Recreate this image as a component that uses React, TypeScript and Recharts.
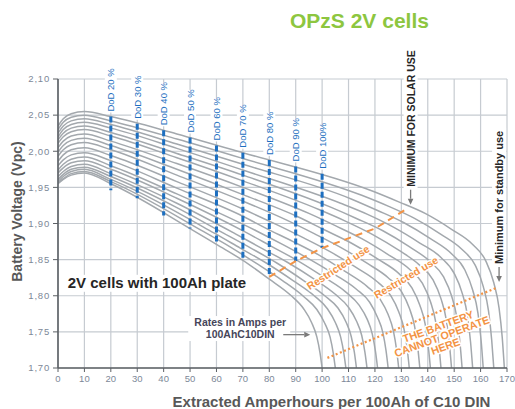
import React from "react"
import {
  LineChart,
  Line,
  XAxis,
  YAxis,
  CartesianGrid,
  ReferenceDot,
} from "recharts"

const xTicks = [0, 10, 20, 30, 40, 50, 60, 70, 80, 90, 100, 110, 120, 130, 140, 150, 160, 170]
const yTicks = [1.7, 1.75, 1.8, 1.85, 1.9, 1.95, 2.0, 2.05, 2.1]

// discharge curves, one per rate (Amps per 100Ah C10 DIN), lowest rate first
// point = [extracted Ah, volts per cell]
const rateCurves: [number, number][][] = [
  [[0, 2.035], [2, 2.045], [5, 2.052], [10, 2.055], [20, 2.048], [45, 2.024], [70, 1.998], [119, 1.945], [129, 1.93], [139, 1.914], [149, 1.892], [157, 1.871], [162, 1.848], [165, 1.818], [167, 1.783], [168.2, 1.742], [169, 1.7]],
  [[0, 2.03], [2, 2.04], [5, 2.047], [10, 2.05], [20, 2.042], [45, 2.017], [70, 1.99], [115, 1.939], [125, 1.924], [135, 1.907], [145, 1.885], [153, 1.864], [158, 1.842], [161, 1.813], [163, 1.779], [164.2, 1.739], [165, 1.7]],
  [[0, 2.025], [2, 2.035], [5, 2.042], [10, 2.045], [20, 2.037], [45, 2.01], [70, 1.982], [111, 1.934], [121, 1.918], [131, 1.901], [141, 1.879], [149, 1.858], [154, 1.836], [157, 1.808], [159, 1.776], [160.2, 1.738], [161, 1.7]],
  [[0, 2.02], [2, 2.03], [5, 2.037], [10, 2.04], [20, 2.032], [45, 2.004], [70, 1.974], [107, 1.928], [117, 1.913], [127, 1.895], [137, 1.873], [145, 1.853], [150, 1.831], [153, 1.804], [155, 1.773], [156.2, 1.736], [157, 1.7]],
  [[0, 2.016], [2, 2.025], [5, 2.032], [10, 2.035], [20, 2.026], [45, 1.997], [70, 1.967], [103, 1.923], [113, 1.907], [123, 1.89], [133, 1.868], [141, 1.847], [146, 1.826], [149, 1.8], [151, 1.77], [152.2, 1.735], [153, 1.7]],
  [[0, 2.011], [2, 2.02], [5, 2.027], [10, 2.03], [20, 2.021], [45, 1.991], [70, 1.959], [99, 1.919], [109, 1.903], [119, 1.885], [129, 1.863], [137, 1.842], [142, 1.822], [145, 1.796], [147, 1.767], [148.2, 1.733], [149, 1.7]],
  [[0, 2.005], [2, 2.014], [5, 2.021], [10, 2.024], [20, 2.014], [45, 1.983], [70, 1.95], [95, 1.914], [105, 1.897], [115, 1.879], [125, 1.857], [133, 1.837], [138, 1.817], [141, 1.792], [143, 1.764], [144.2, 1.732], [145, 1.7]],
  [[0, 1.999], [2, 2.008], [5, 2.015], [10, 2.018], [20, 2.008], [45, 1.975], [70, 1.94], [91, 1.909], [101, 1.891], [111, 1.873], [121, 1.851], [129, 1.831], [134, 1.811], [137, 1.787], [139, 1.761], [140.2, 1.73], [141, 1.7]],
  [[0, 1.993], [2, 2.002], [5, 2.009], [10, 2.012], [20, 2.002], [45, 1.967], [70, 1.931], [87, 1.904], [97, 1.886], [107, 1.867], [117, 1.845], [125, 1.825], [130, 1.806], [133, 1.783], [135, 1.758], [136.2, 1.729], [137, 1.7]],
  [[0, 1.986], [2, 1.995], [5, 2.002], [10, 2.005], [20, 1.994], [45, 1.958], [70, 1.92], [83, 1.898], [93, 1.88], [103, 1.861], [113, 1.839], [121, 1.819], [126, 1.8], [129, 1.778], [131, 1.754], [132.2, 1.727], [133, 1.7]],
  [[0, 1.98], [2, 1.988], [5, 1.995], [10, 1.998], [20, 1.987], [45, 1.949], [70, 1.91], [79, 1.893], [89, 1.875], [99, 1.856], [109, 1.833], [117, 1.813], [122, 1.795], [125, 1.774], [127, 1.751], [128.2, 1.725], [129, 1.7]],
  [[0, 1.974], [2, 1.982], [5, 1.989], [10, 1.992], [20, 1.98], [45, 1.941], [75, 1.89], [85, 1.871], [95, 1.851], [105, 1.829], [113, 1.809], [118, 1.791], [121, 1.77], [123, 1.749], [124.2, 1.724], [125, 1.7]],
  [[0, 1.97], [2, 1.977], [5, 1.984], [10, 1.987], [20, 1.975], [45, 1.935], [71, 1.888], [81, 1.868], [91, 1.848], [101, 1.825], [109, 1.805], [114, 1.787], [117, 1.768], [119, 1.747], [120.2, 1.723], [121, 1.7]],
  [[0, 1.965], [2, 1.972], [5, 1.979], [10, 1.982], [20, 1.969], [45, 1.928], [67, 1.886], [77, 1.866], [87, 1.846], [97, 1.823], [105, 1.802], [110, 1.784], [113, 1.765], [115, 1.745], [116.2, 1.722], [117, 1.7]],
  [[0, 1.961], [2, 1.968], [5, 1.975], [10, 1.978], [20, 1.965], [45, 1.922], [63, 1.886], [73, 1.866], [83, 1.845], [93, 1.821], [101, 1.8], [106, 1.783], [109, 1.764], [111, 1.744], [112.2, 1.722], [113, 1.7]],
  [[0, 1.958], [2, 1.965], [5, 1.972], [10, 1.975], [20, 1.961], [59, 1.887], [69, 1.866], [79, 1.845], [89, 1.821], [97, 1.8], [102, 1.782], [105, 1.763], [107, 1.743], [108.2, 1.721], [109, 1.7]],
  [[0, 1.956], [2, 1.962], [5, 1.969], [10, 1.972], [20, 1.958], [55, 1.889], [65, 1.868], [75, 1.845], [85, 1.821], [93, 1.799], [98, 1.781], [101, 1.762], [103, 1.743], [104.2, 1.721], [105, 1.7]],
  [[0, 1.955], [2, 1.961], [5, 1.967], [10, 1.97], [20, 1.955], [50, 1.893], [60, 1.871], [70, 1.849], [80, 1.823], [88, 1.801], [93, 1.782], [96, 1.763], [98, 1.743], [99.2, 1.721], [100, 1.7]],
]

// depth of discharge markers
const dodAh = [20, 30, 40, 50, 60, 70, 80, 90, 100]
const dodTop = [2.048, 2.038, 2.029, 2.019, 2.008, 1.998, 1.988, 1.979, 1.969]
const dodBottom = [1.946, 1.935, 1.911, 1.893, 1.871, 1.851, 1.826, 1.848, 1.866]
const dodLabels = ["DoD 20 %", "DoD 30 %", "DoD 40 %", "DoD 50 %", "DoD 60 %", "DoD 70 %", "DoD 80 %", "DoD 90 %", "DoD 100%"]

// orange limits
const restrictedLine: [number, number][] = [[80, 1.826], [90, 1.848], [100, 1.866], [120, 1.893], [131.5, 1.919]]
const noOperateLine: [number, number][] = [[102, 1.714], [166, 1.811]]

const FONT = "'Liberation Sans', Arial, Helvetica, sans-serif"
const CURVE = "#a3a8ad"
const GRID = "#c6cbd1"
const AXIS = "#5c6065"
const TICK = "#7d8898"
const BLUE = "#1d6fc0"
const ORANGE = "#f39446"
const INK = "#262626"

const toPoints = (list: [number, number][]) => list.map(([x, v]) => ({ x, v }))

type DotProps = { cx?: number; cy?: number }

function Arrow({ x1, y1, x2, y2 }: { x1: number; y1: number; x2: number; y2: number }) {
  const a = Math.atan2(y2 - y1, x2 - x1)
  const hx = x2 - 6 * Math.cos(a)
  const hy = y2 - 6 * Math.sin(a)
  const p1 = `${hx + 2.8 * Math.sin(a)},${hy - 2.8 * Math.cos(a)}`
  const p2 = `${hx - 2.8 * Math.sin(a)},${hy + 2.8 * Math.cos(a)}`
  return (
    <g>
      <line x1={x1} y1={y1} x2={hx} y2={hy} stroke="#7a7a7a" strokeWidth={1.3} />
      <polygon points={`${x2},${y2} ${p1} ${p2}`} fill="#7a7a7a" />
    </g>
  )
}

const dodLabel = (text: string) => ({ cx = 0, cy = 0 }: DotProps) => (
  <g transform={`translate(${cx},${cy - 5}) rotate(-90)`}>
    <rect x={-1} y={-6} width={text.length * 5.2 + 2} height={12} fill="#fff" />
    <text x={0} y={0} dominantBaseline="central" fontSize={9.5} fill={BLUE} fontFamily={FONT}>
      {text}
    </text>
  </g>
)

const verticalNote = (text: string, size: number, len: number) => ({ cx = 0, cy = 0 }: DotProps) => (
  <g>
    <Arrow x1={cx} y1={cy - 15} x2={cx} y2={cy} />
    <g transform={`translate(${cx},${cy - 18}) rotate(-90)`}>
      <rect x={-2} y={-7} width={len} height={14} fill="#fff" />
      <text x={0} y={0} dominantBaseline="central" fontSize={size} fontWeight="bold" fill={INK} fontFamily={FONT}>
        {text}
      </text>
    </g>
  </g>
)

const orangeNote = (lines: string[], angle: number, size: number) => ({ cx = 0, cy = 0 }: DotProps) => (
  <g transform={`translate(${cx},${cy}) rotate(${angle})`}>
    {lines.map((t, i) => (
      <text
        key={t}
        x={0}
        y={(i - (lines.length - 1) / 2) * 10.5}
        textAnchor="middle"
        dominantBaseline="central"
        fontSize={size}
        fontWeight="bold"
        fill={ORANGE}
        stroke="#fff"
        strokeWidth={3}
        strokeLinejoin="round"
        paintOrder="stroke"
        fontFamily={FONT}
      >
        {t}
      </text>
    ))}
  </g>
)

const plateNote = ({ cx = 0, cy = 0 }: DotProps) => (
  <g>
    <rect x={cx - 3} y={cy - 13} width={184} height={17} fill="#fff" />
    <text x={cx} y={cy} fontSize={15} fontWeight="bold" fill={INK} fontFamily={FONT}>
      2V cells with 100Ah plate
    </text>
  </g>
)

const ratesNote = ({ cx = 0, cy = 0 }: DotProps) => (
  <g>
    <rect x={cx - 52} y={cy - 12} width={102} height={25} fill="#fff" />
    <text x={cx} y={cy - 2.5} textAnchor="middle" fontSize={10.5} fontWeight="bold" fill="#46465a" fontFamily={FONT}>
      Rates in Amps per
    </text>
    <text x={cx} y={cy + 10} textAnchor="middle" fontSize={10.5} fontWeight="bold" fill="#46465a" fontFamily={FONT}>
      100AhC10DIN
    </text>
    <Arrow x1={cx + 43} y1={cy + 6.6} x2={cx + 70} y2={cy + 6.6} />
  </g>
)

export default function App() {
  return (
    <div style={{ position: "absolute", left: 0, top: 0, width: 515, height: 409, background: "#fff", fontFamily: FONT }}>
      <LineChart width={515} height={409} margin={{ top: 79, right: 8, bottom: 0, left: 0 }}>
        <CartesianGrid stroke={GRID} strokeWidth={1.2} />
        <XAxis
          type="number"
          dataKey="x"
          domain={[0, 170]}
          ticks={xTicks}
          allowDataOverflow
          height={41}
          interval={0}
          tickSize={4}
          tickMargin={3}
          axisLine={{ stroke: AXIS, strokeWidth: 1.6 }}
          tickLine={{ stroke: AXIS }}
          tick={{ fill: TICK, fontSize: 9.5, fontFamily: FONT }}
        />
        <YAxis
          type="number"
          domain={[1.7, 2.1]}
          ticks={yTicks}
          allowDataOverflow
          width={58}
          interval={0}
          tickSize={5}
          tickMargin={3}
          tickFormatter={(v: number) => v.toFixed(2).replace(".", ",")}
          axisLine={{ stroke: AXIS, strokeWidth: 1.6 }}
          tickLine={{ stroke: AXIS }}
          tick={{ fill: TICK, fontSize: 9.5, fontFamily: FONT, letterSpacing: 0.8 }}
        />
        {rateCurves.map((c, i) => (
          <Line
            key={`rate-${i}`}
            data={toPoints(c)}
            dataKey="v"
            type="monotone"
            stroke={CURVE}
            strokeWidth={1.5}
            dot={false}
            activeDot={false}
            isAnimationActive={false}
          />
        ))}
        {dodAh.map((x, i) => (
          <Line
            key={`dod-${x}`}
            data={[{ x, v: dodTop[i] }, { x, v: dodBottom[i] }]}
            dataKey="v"
            type="linear"
            stroke={BLUE}
            strokeWidth={3}
            strokeDasharray="6 3"
            dot={false}
            activeDot={false}
            isAnimationActive={false}
          />
        ))}
        <Line
          data={toPoints(restrictedLine)}
          dataKey="v"
          type="linear"
          stroke={ORANGE}
          strokeWidth={2}
          strokeDasharray="7 5"
          dot={false}
          activeDot={false}
          isAnimationActive={false}
        />
        <Line
          data={toPoints(noOperateLine)}
          dataKey="v"
          type="linear"
          stroke={ORANGE}
          strokeWidth={2.2}
          strokeDasharray="2 2.5"
          dot={false}
          activeDot={false}
          isAnimationActive={false}
        />
        {dodAh.map((x, i) => (
          <ReferenceDot key={`dodl-${x}`} x={x} y={dodTop[i]} r={0} shape={dodLabel(dodLabels[i])} />
        ))}
        <ReferenceDot x={133.5} y={1.926} r={0} shape={verticalNote("MINIMUM FOR SOLAR USE", 10.5, 142)} />
        <ReferenceDot x={167} y={1.819} r={0} shape={verticalNote("Minimum for standby use", 11, 138)} />
        <ReferenceDot x={106} y={1.8395} r={0} shape={orangeNote(["Restricted use"], -33, 10.5)} />
        <ReferenceDot x={131.7} y={1.8256} r={0} shape={orangeNote(["Restricted use"], -30.5, 10.5)} />
        <ReferenceDot x={145.3} y={1.744} r={0} shape={orangeNote(["THE BATTERY", "CANNOT OPERATE", "HERE"], -20, 10.8)} />
        <ReferenceDot x={3.7} y={1.811} r={0} shape={plateNote} />
        <ReferenceDot x={69} y={1.7553} r={0} shape={ratesNote} />
      </LineChart>
      <svg width={515} height={409} style={{ position: "absolute", left: 0, top: 0, pointerEvents: "none" }}>
        <text x={290} y={28} fontSize={21} fontWeight="bold" fill="#8dc63f" fontFamily={FONT}>
          OPzS 2V cells
        </text>
        <text transform="translate(21.5,211.5) rotate(-90)" textAnchor="middle" fontSize={14} fontWeight="bold" fill="#585858" fontFamily={FONT}>
          Battery Voltage (Vpc)
        </text>
        <text x={331.5} y={406.5} textAnchor="middle" fontSize={15} fontWeight="bold" fill="#585858" fontFamily={FONT}>
          Extracted Amperhours per 100Ah of C10 DIN
        </text>
      </svg>
    </div>
  )
}
